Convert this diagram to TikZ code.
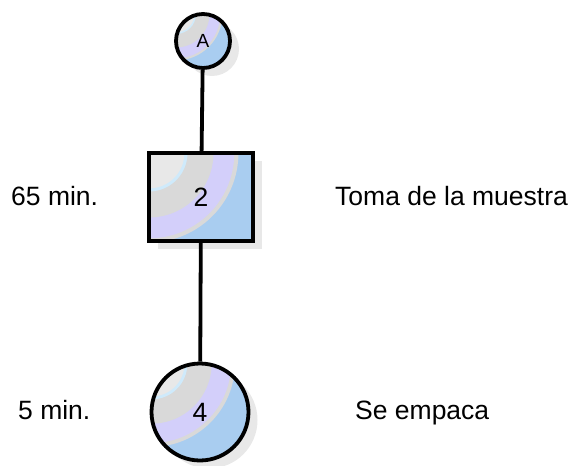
\documentclass[tikz,border=0pt]{standalone}
\usepackage{fontspec}
\setmainfont{Liberation Sans}
\usetikzlibrary{shadows}
\definecolor{bandblue}{HTML}{A9CDF0}
\definecolor{bandgray}{HTML}{D9D9D9}
\definecolor{bandlight}{HTML}{E8E8E8}
\definecolor{bandcyan}{HTML}{CFEAFB}
\definecolor{bandlilac}{HTML}{D3CFFA}
\definecolor{shadowgray}{HTML}{E8E8E8}
\tikzset{
  % fill in rings round the upper left corner, #1 = size of the shape
  bands/.style={path picture={
    \coordinate (pc) at (path picture bounding box.north west);
    \fill[bandblue] (path picture bounding box.south west) rectangle (path picture bounding box.north east);
    \fill[bandgray] (pc) circle[radius={0.86*#1}];
    \fill[bandlilac] (pc) circle[radius={0.82*#1}];
    \fill[bandgray] (pc) circle[radius={0.62*#1}];
    \fill[bandcyan] (pc) circle[radius={0.37*#1}];
    \fill[bandlight] (pc) circle[radius={0.34*#1}];
  }},
  shade/.style={drop shadow={shadow xshift=9pt, shadow yshift=-8pt, fill=shadowgray, opacity=1}},
  connector/.style={circle, draw, line width=3.8pt, inner sep=0pt, shade},
  operation/.style={rectangle, draw, line width=3.8pt, inner sep=0pt, shade,
    minimum width=104pt, minimum height=88pt, bands=104pt},
  conn/.style={line width=3.8pt},
  big/.style={font=\fontsize{26.5}{30}\selectfont},
  lbl/.style={anchor=base west, inner sep=0pt, big},
}
\begin{document}
\begin{tikzpicture}[x=1pt, y=-1pt]
  \useasboundingbox (0,0) rectangle (576,466);
  % diagrama
  \node[connector, minimum size=54pt, bands=54pt, font=\fontsize{19}{22}\selectfont] (A) at (203,41) {A};
  \node[operation, big] (op2) at (201,197) {2};
  \node[connector, minimum size=97pt, bands=97pt, big] (op4) at (200,412) {4};
  \draw[conn] (A) -- (op2);
  \draw[conn] (op2) -- (op4);
  % tiempos y descripciones
  \node[lbl] (t2) at (11,205) {65 min.};
  \node[lbl] (d2) at (335,205) {Toma de la muestra};
  \node[lbl] (t4) at (18,419) {5 min.};
  \node[lbl] (d4) at (355,419) {Se empaca};
\end{tikzpicture}
\end{document}
